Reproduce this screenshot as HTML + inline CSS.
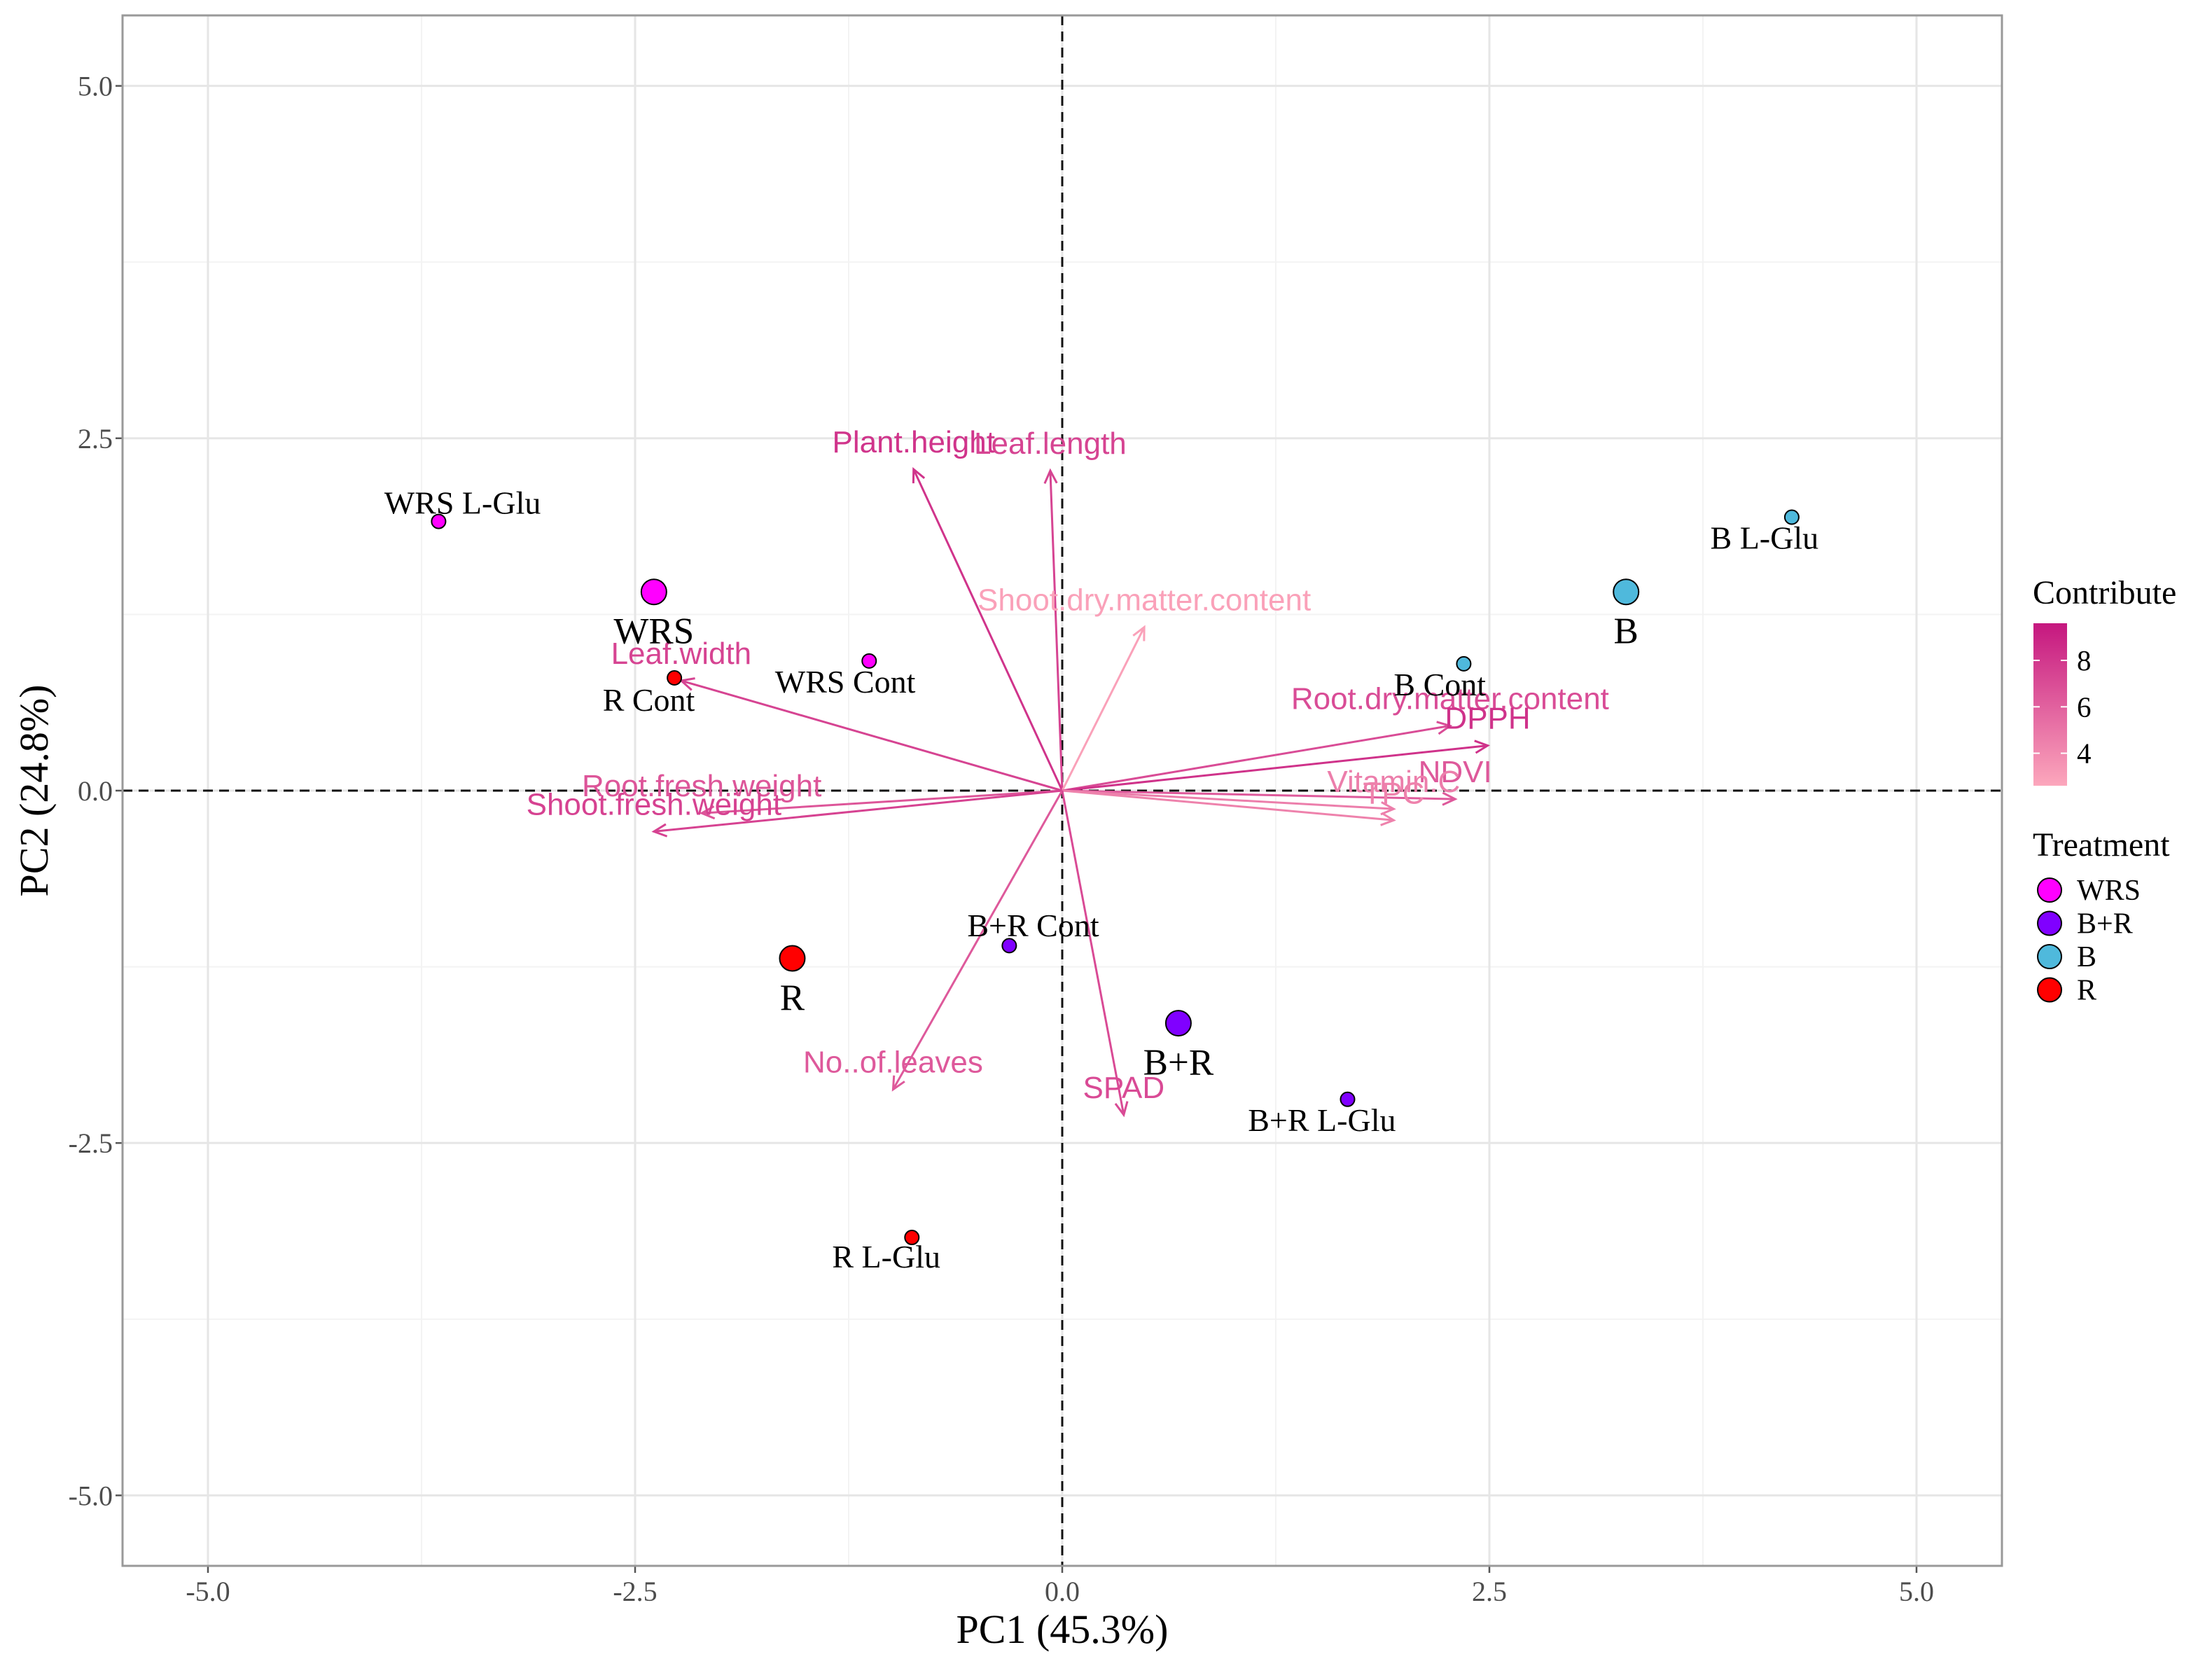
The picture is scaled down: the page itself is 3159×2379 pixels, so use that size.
<!DOCTYPE html>
<html><head><meta charset="utf-8"><style>
html,body{margin:0;padding:0;background:#fff}
svg{display:block}
</style></head><body>
<svg id="chart" xmlns="http://www.w3.org/2000/svg" width="3159" height="2379" viewBox="0 0 3159 2379"></svg>
<script>
const xTicks=[-5.0,-2.5,0.0,2.5,5.0];
const yTicks=[-5.0,-2.5,0.0,2.5,5.0];
const xTickLabels=["-5.0","-2.5","0.0","2.5","5.0"];
const yTickLabels=["-5.0","-2.5","0.0","2.5","5.0"];
const minorTicks=[-3.75,-1.25,1.25,3.75];
const obsNames=["WRS L-Glu","WRS","R Cont","WRS Cont","B L-Glu","B","B Cont","B+R Cont","B+R","B+R L-Glu","R","R L-Glu"];
const obsX=[-3.65,-2.39,-2.27,-1.13,4.27,3.30,2.35,-0.31,0.68,1.67,-1.58,-0.88];
const obsY=[1.91,1.41,0.80,0.92,1.94,1.41,0.90,-1.10,-1.65,-2.19,-1.19,-3.17];
const obsGroup=["WRS","WRS","R","WRS","B","B","B","B+R","B+R","B+R","R","R"];
const obsBig=[0,1,0,0,0,1,0,0,1,0,1,0];
const labelOffsets=[[0.14,0.13],[0,-0.28],[-0.15,-0.16],[-0.14,-0.15],[-0.16,-0.15],[0,-0.28],[-0.14,-0.15],[0.14,0.14],[0,-0.28],[-0.15,-0.15],[0,-0.28],[-0.15,-0.14]];
const varNames=["Plant.height","Leaf.length","Shoot.dry.matter.content","Leaf.width","Root.fresh.weight","Shoot.fresh.weight","Root.dry.matter.content","DPPH","NDVI","Vitamin.C","TPC","No..of.leaves","SPAD"];
const varX=[-0.87,-0.07,0.48,-2.23,-2.11,-2.39,2.27,2.49,2.30,1.94,1.94,-0.99,0.36];
const varY=[2.28,2.27,1.16,0.78,-0.16,-0.29,0.46,0.32,-0.06,-0.13,-0.21,-2.12,-2.30];
const varContrib=[8.2,7.4,2.9,7.4,6.6,7.5,7.0,8.3,6.4,4.6,4.4,6.4,7.1];
const groupNames=["WRS","B+R","B","R"];
const groupColors=["#ff00ff","#8000ff","#4fb9dc","#ff0000"];
const cbTicks=[8,6,4];

const L=175,R=2859,T=22,B=2236,XMIN=-5.5,XMAX=5.5,YMIN=-5.5,YMAX=5.5;
const sx=v=>L+(v-XMIN)/(XMAX-XMIN)*(R-L);
const sy=v=>B-(v-YMIN)/(YMAX-YMIN)*(B-T);
const svg=document.getElementById('chart');
const NS="http://www.w3.org/2000/svg";
function mk(tag,attrs,parent){const e=document.createElementNS(NS,tag);for(const k in attrs)e.setAttribute(k,attrs[k]);(parent||svg).appendChild(e);return e;}
function lerp(a,b,t){return Math.round(a+(b-a)*t);}
function ccol(v){const lo=2.6,hi=9.6;let t=Math.max(0,Math.min(1,(v-lo)/(hi-lo)));
 const c0=[252,167,188],c1=[197,23,127];return `rgb(${lerp(c0[0],c1[0],t)},${lerp(c0[1],c1[1],t)},${lerp(c0[2],c1[2],t)})`;}
const serif='"Liberation Serif", serif', sans='"Liberation Sans", sans-serif';

let e=mk('rect',{x:L,y:T,width:R-L,height:B-T,fill:'#fff'});

minorTicks.forEach(v=>{
 mk('line',{x1:sx(v),x2:sx(v),y1:T,y2:B,stroke:'#f3f3f3','stroke-width':2});
 mk('line',{x1:L,x2:R,y1:sy(v),y2:sy(v),stroke:'#f3f3f3','stroke-width':2});
});
xTicks.forEach((v,i)=>{
 e=mk('line',{x1:sx(v),x2:sx(v),y1:T,y2:B,stroke:'#e6e6e6','stroke-width':3});
 
 mk('line',{x1:sx(v),x2:sx(v),y1:B,y2:B+10,stroke:'#555','stroke-width':2.5});
 e=mk('text',{x:sx(v),y:B+50,'text-anchor':'middle','font-family':serif,'font-size':40,fill:'#4d4d4d'});e.textContent=xTickLabels[i];
 
});
yTicks.forEach((v,i)=>{
 e=mk('line',{x1:L,x2:R,y1:sy(v),y2:sy(v),stroke:'#e6e6e6','stroke-width':3});
 
 mk('line',{x1:L-10,x2:L,y1:sy(v),y2:sy(v),stroke:'#555','stroke-width':2.5});
 e=mk('text',{x:L-14,y:sy(v)+14,'text-anchor':'end','font-family':serif,'font-size':40,fill:'#4d4d4d'});e.textContent=yTickLabels[i];
 
});
e=mk('line',{x1:L,x2:R,y1:sy(0),y2:sy(0),stroke:'#111','stroke-width':3,'stroke-dasharray':'14 9'});

e=mk('line',{x1:sx(0),x2:sx(0),y1:T,y2:B,stroke:'#111','stroke-width':3,'stroke-dasharray':'14 9'});


varNames.forEach((n,i)=>{
 const c=ccol(varContrib[i]);
 const x0=sx(0),y0=sy(0),x1=sx(varX[i]),y1=sy(varY[i]);
 const g=mk('g',{});
 
 
 mk('line',{x1:x0,y1:y0,x2:x1,y2:y1,stroke:c,'stroke-width':3},g);
 const a=Math.atan2(y1-y0,x1-x0),h=20,s=0.45;
 mk('polyline',{points:`${x1-h*Math.cos(a-s)},${y1-h*Math.sin(a-s)} ${x1},${y1} ${x1-h*Math.cos(a+s)},${y1-h*Math.sin(a+s)}`,fill:'none',stroke:c,'stroke-width':3},g);
 const t=mk('text',{x:x1,y:y1-24,'text-anchor':'middle','font-family':sans,'font-size':44,fill:c},g);t.textContent=n;
});

obsNames.forEach((n,i)=>{
 const gi=groupNames.indexOf(obsGroup[i]);
 const g=mk('g',{});
 
 
 mk('circle',{cx:sx(obsX[i]),cy:sy(obsY[i]),r:obsBig[i]?18:10,fill:groupColors[gi],stroke:'#000','stroke-width':2},g);
 const lx=sx(obsX[i]+labelOffsets[i][0]),ly=sy(obsY[i]+labelOffsets[i][1]);
 const t=mk('text',{x:lx,y:ly+(obsBig[i]?17:15),'text-anchor':'middle','font-family':serif,'font-size':obsBig[i]?53:46,fill:'#000'},g);t.textContent=n;
});

e=mk('rect',{x:L,y:T,width:R-L,height:B-T,fill:'none',stroke:'#999','stroke-width':3});

e=mk('text',{x:sx(0),y:2346,'text-anchor':'middle','font-family':serif,'font-size':58,fill:'#000'});e.textContent='PC1 (45.3%)';

e=mk('text',{x:0,y:0,'text-anchor':'middle','font-family':serif,'font-size':58,fill:'#000',transform:`translate(68,${sy(0)}) rotate(-90)`});e.textContent='PC2 (24.8%)';


const defs=mk('defs',{});
const lg=mk('linearGradient',{id:'cb',x1:0,y1:1,x2:0,y2:0},defs);
mk('stop',{offset:0,'stop-color':ccol(2.6)},lg);mk('stop',{offset:1,'stop-color':ccol(9.6)},lg);
e=mk('text',{x:2903,y:862,'font-family':serif,'font-size':48,fill:'#000'});e.textContent='Contribute';

const cbT=890,cbB=1122,cbL=2904,cbW=48;
e=mk('rect',{x:cbL,y:cbT,width:cbW,height:cbB-cbT,fill:'url(#cb)'});

const cby=v=>cbB-(v-2.6)/(9.6-2.6)*(cbB-cbT);
cbTicks.forEach(v=>{
 mk('line',{x1:cbL,x2:cbL+9,y1:cby(v),y2:cby(v),stroke:'#fff','stroke-width':2});
 mk('line',{x1:cbL+cbW-9,x2:cbL+cbW,y1:cby(v),y2:cby(v),stroke:'#fff','stroke-width':2});
 e=mk('text',{x:2966,y:cby(v)+14,'font-family':serif,'font-size':41,fill:'#000'});e.textContent=String(v);
 
});
e=mk('text',{x:2903,y:1222,'font-family':serif,'font-size':48,fill:'#000'});e.textContent='Treatment';

groupNames.forEach((n,i)=>{
 const y=1271+i*47.5;
 const g=mk('g',{});
 
 
 mk('circle',{cx:2927,cy:y,r:17,fill:groupColors[i],stroke:'#000','stroke-width':2},g);
 const t=mk('text',{x:2966,y:y+14,'font-family':serif,'font-size':42,fill:'#000'},g);t.textContent=n;
});
</script>
</body></html>
